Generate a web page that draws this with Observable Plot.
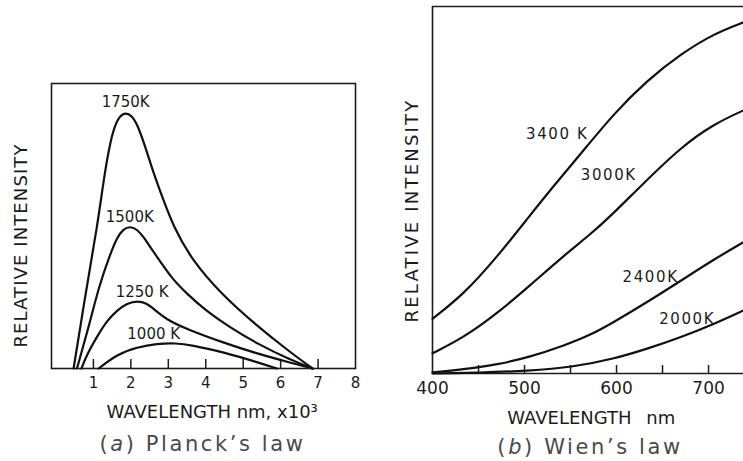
<!DOCTYPE html>
<html><head><meta charset="utf-8">
<script src="https://cdn.jsdelivr.net/npm/d3@7"></script>
<script src="https://cdn.jsdelivr.net/npm/@observablehq/plot@0.6"></script>
<style>
html,body{margin:0;padding:0;background:#fff;overflow:hidden}
#wrap{position:relative;width:743px;height:461px;background:#fff}
#wrap svg{position:absolute;top:0}
.cap{position:absolute;width:260px;text-align:center;font-family:"DejaVu Sans";font-weight:normal;font-size:21px;line-height:21px;letter-spacing:2.6px;color:#4a4a4a;white-space:pre}
</style></head><body><div id="wrap"></div>
<script>
// ---------- (a) Planck's law ----------
const planckTickLabels = [1, 2, 3, 4, 5, 6, 7, 8];
const planckTickMarks = [1, 2, 3, 4, 5, 6, 7];
const planckDomainX = [-0.12, 8];
const planckDomainY = [0, 100];
const planckSeries = ["1750K", "1500K", "1250 K", "1000 K"];
const planck1750 = [[0.47,0],[0.79,26.3],[1.10,49.6],[1.29,67.7],[1.43,78.2],[1.56,84.9],[1.70,88.6],[1.86,89.8],[2.02,88.8],[2.18,85.5],[2.39,77.6],[2.62,68],[2.83,60.5],[3.14,49.6],[3.64,37.9],[4.40,26.3],[5.38,14.8],[6.2,6.3],[6.85,0]];
const planck1500 = [[0.56,0],[0.92,16.8],[1.14,28.5],[1.45,40.2],[1.63,46],[1.80,49],[1.99,49.9],[2.17,48.8],[2.35,46],[2.57,41.5],[2.79,37.5],[3.1,31.5],[3.5,26.2],[4.0,20.3],[4.66,14.3],[5.4,8.5],[6.27,3],[6.85,0]];
const planck1250 = [[0.68,0],[0.83,5.1],[1.19,13.3],[1.37,16.8],[1.63,20.4],[1.9,22.9],[2.18,23.8],[2.42,22.9],[2.61,20.9],[2.97,17],[3.5,13.8],[4.48,9],[5.38,5.2],[6.27,2],[6.85,0]];
const planck1000 = [[1.14,0],[1.63,5],[2.17,7.5],[2.7,8.7],[3.2,8.9],[3.6,8.3],[4.48,5.7],[5.38,2.2],[5.9,0]];
const planckLabelX = [1.86, 1.97, 2.3, 2.61];
const planckLabelY = [93.4, 53.1, 26.8, 11.9];

// ---------- (b) Wien's law ----------
const wienTickLabels = [400, 500, 600, 700];
const wienTickMarks = [450, 500, 550, 600, 650, 700];
const wienDomainX = [400, 738];
const wienDomainY = [0, 100];
const wienSeries = ["3400 K", "3000K", "2400K", "2000K"];
const wien3400 = [[400,14.9],[434,21.6],[470,31.7],[506,43.1],[532,51.2],[561,59.8],[597,70.8],[633,79.8],[670,87.1],[706,92.6],[738,95.7]];
const wien3000 = [[400,5.5],[434,9.8],[470,16.3],[506,24],[543,32.2],[572,38],[594,43],[626,51],[670,61.7],[706,68],[738,71.7]];
const wien2400 = [[400,0.3],[436,1.2],[470,2.4],[506,4.5],[543,7.6],[572,10.5],[597,14],[633,19.4],[670,25.3],[706,31.1],[738,35.8]];
const wien2000 = [[400,0],[450,0.2],[503,0.7],[554,1.8],[597,4],[633,6.7],[670,9.9],[706,13.5],[738,17.2]];
const wienLabelX = [535.5, 591.6, 637, 676.8];
const wienLabelY = [65.3, 54, 26.2, 14.9];

const toRows = (names, arrs) => names.flatMap((n, i) => arrs[i].map(([x, y]) => ({T: n, x, y})));
const labRows = (names, xs, ys) => names.map((n, i) => ({T: n, x: xs[i], y: ys[i]}));

const ink = "#1c1c1c";
const font = "DejaVu Sans";

const planckRows = toRows(planckSeries, [planck1750, planck1500, planck1250, planck1000]);
const wienRows = toRows(wienSeries, [wien3400, wien3000, wien2400, wien2000]);

const A = {W: 375, H: 461, mL: 51, mR: 20, mT: 83, mB: 93};
const B = {W: 363, H: 461, mL: 52, mR: 0, mT: 6, mB: 88};

const left = Plot.plot({
  width: A.W, height: A.H,
  marginLeft: A.mL, marginRight: A.mR, marginTop: A.mT, marginBottom: A.mB,
  x: {domain: planckDomainX},
  y: {domain: planckDomainY, axis: null},
  style: {fontFamily: font, color: ink, background: "white"},
  marks: [
    Plot.frame({stroke: ink, strokeWidth: 1.6}),
    Plot.gridX(planckTickMarks, {stroke: ink, strokeOpacity: 1, strokeWidth: 1.5, insetTop: (A.H - A.mT - A.mB) - 9}),
    Plot.axisX({ticks: planckTickLabels, tickSize: 0, tickPadding: 9, fontSize: 15, label: null, tickFormat: d => String(d), fill: ink}),
    Plot.line(planckRows, {x: "x", y: "y", z: "T", stroke: "#111", strokeWidth: 2.2, curve: "basis"}),
    Plot.text(labRows(planckSeries, planckLabelX, planckLabelY), {x: "x", y: "y", text: "T", fontSize: 15, fill: ink}),
    Plot.text(["RELATIVE INTENSITY"], {text: d => d, frameAnchor: "left", textAnchor: "middle", rotate: -90, dx: -30, dy: 19.5, fontSize: 18, fill: ink}),
    Plot.text(["WAVELENGTH nm, x10³"], {text: d => d, frameAnchor: "bottom", textAnchor: "middle", lineAnchor: "bottom", dx: 8.7, dy: 49.3, fontSize: 18, fill: ink})
  ]
});
left.style.left = "0px";

const right = Plot.plot({
  width: B.W, height: B.H,
  marginLeft: B.mL, marginRight: B.mR, marginTop: B.mT, marginBottom: B.mB,
  x: {domain: wienDomainX},
  y: {domain: wienDomainY, axis: null},
  style: {fontFamily: font, color: ink, background: "white"},
  marks: [
    Plot.ruleX([wienDomainX[0]], {stroke: ink, strokeWidth: 1.6}),
    Plot.ruleY(wienDomainY, {stroke: ink, strokeWidth: 1.6}),
    Plot.gridX(wienTickMarks, {stroke: ink, strokeOpacity: 1, strokeWidth: 1.5, insetTop: (B.H - B.mT - B.mB) - 8}),
    Plot.axisX({ticks: wienTickLabels, tickSize: 0, tickPadding: 8, fontSize: 17, label: null, tickFormat: d => String(d), fill: ink}),
    Plot.line(wienRows, {x: "x", y: "y", z: "T", stroke: "#111", strokeWidth: 2.2, curve: "basis"}),
    Plot.text(labRows(wienSeries, wienLabelX, wienLabelY), {x: "x", y: "y", text: "T", fontSize: 15, fill: ink}),
    Plot.text(["RELATIVE INTENSITY"], {text: d => d, frameAnchor: "left", textAnchor: "middle", rotate: -90, dx: -20, dy: 20.5, fontSize: 18, fill: ink}),
    Plot.text(["WAVELENGTH\u2002 nm"], {text: d => d, frameAnchor: "bottom", textAnchor: "middle", lineAnchor: "bottom", dx: 3.3, dy: 50.3, fontSize: 18, fill: ink})
  ]
});
right.style.left = "380px";

// letter spacing tweaks
d3.select(left).selectAll("text").filter(function () { return this.textContent === "RELATIVE INTENSITY"; }).style("letter-spacing", "1.1px");
d3.select(right).selectAll("text").filter(function () { return this.textContent === "RELATIVE INTENSITY"; }).style("letter-spacing", "2.2px");
d3.select(right).selectAll("text").filter(function () { return wienSeries.includes(this.textContent); }).style("letter-spacing", "1.6px");

const wrap = document.getElementById("wrap");
wrap.append(left, right);

const capA = document.createElement("div");
capA.className = "cap";
capA.style.left = (202.5 - 130) + "px";
capA.style.top = "434px";
capA.innerHTML = "(<i>a</i>) Planck’s law";
const capB = document.createElement("div");
capB.className = "cap";
capB.style.left = (590 - 130) + "px";
capB.style.top = "437px";
capB.innerHTML = "(<i>b</i>) Wien’s law";
wrap.append(capA, capB);
</script></body></html>
